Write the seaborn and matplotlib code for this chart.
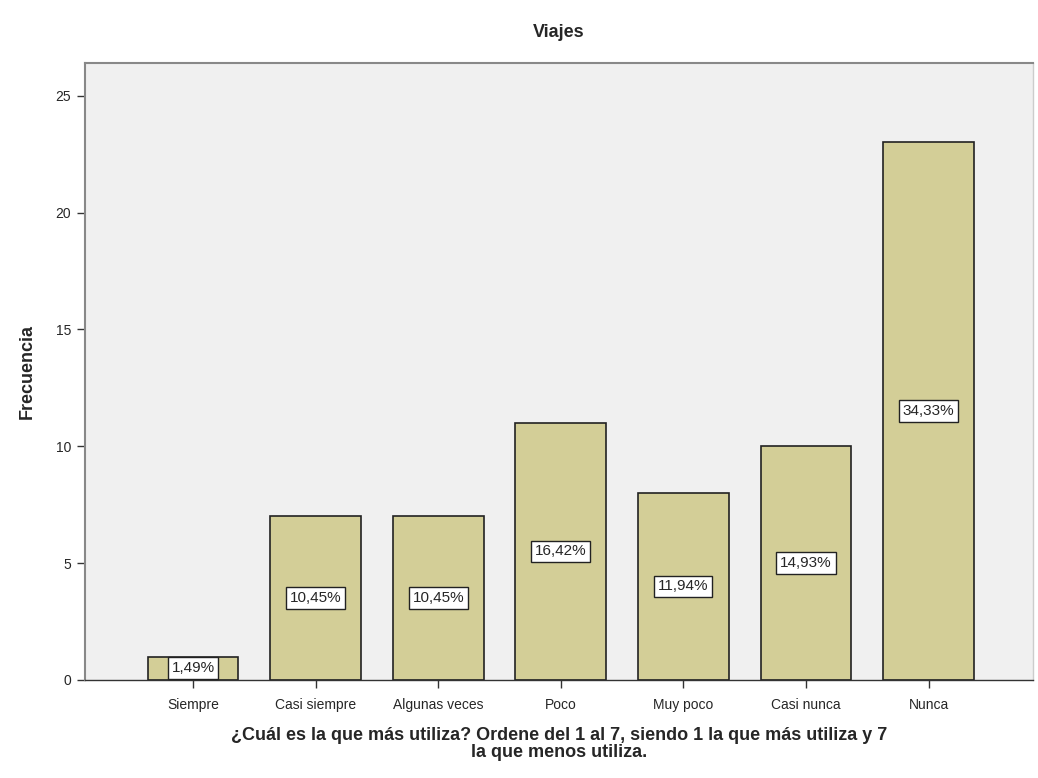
import numpy as np
import pandas as pd
import seaborn as sns
from matplotlib import pyplot as plt

# Datos del grafico
categorias = ["Siempre", "Casi siempre", "Algunas veces", "Poco", "Muy poco", "Casi nunca", "Nunca"]
frecuencias = [1, 7, 7, 11, 8, 10, 23]
porcentajes = ["1,49%", "10,45%", "10,45%", "16,42%", "11,94%", "14,93%", "34,33%"]

df = pd.DataFrame({"cat": categorias, "freq": frecuencias})

sns.set_style("white")
plt.rcParams['font.family'] = ['Liberation Sans', 'DejaVu Sans']

fig = plt.figure(figsize=(10.38, 7.78), dpi=100)
ax = fig.add_axes([0.082, 0.126, 0.913, 0.793])
ax.set_facecolor("#f0f0f0")

sns.barplot(data=df, x="cat", y="freq", color="#d3ce97", saturation=1,
            width=0.74, edgecolor="#222222", linewidth=1.2, ax=ax)

# Etiquetas de porcentaje a media altura
for i, (f, p) in enumerate(zip(frecuencias, porcentajes)):
    ax.text(i, f / 2, p, ha="center", va="center", fontsize=11,
            bbox=dict(boxstyle="square,pad=0.25", facecolor="white", edgecolor="#222222", linewidth=1))

ax.set_xlim(-0.88, 6.85)
ax.set_ylim(0, 26.4)
ax.set_yticks([0, 5, 10, 15, 20, 25])
ax.tick_params(axis="both", direction="out", length=6, width=1, color="#333333",
               labelsize=10, left=True, bottom=True, pad=4)
ax.tick_params(axis="x", pad=7)

for s in ["top", "left"]:
    ax.spines[s].set_color("#888888")
    ax.spines[s].set_linewidth(1.5)
ax.spines["right"].set_color("#cccccc")
ax.spines["right"].set_linewidth(1)
ax.spines["bottom"].set_color("#333333")
ax.spines["bottom"].set_linewidth(1)

ax.set_title("Viajes", fontsize=13, fontweight="bold", pad=19)
ax.set_ylabel("Frecuencia", fontsize=13, fontweight="bold", labelpad=14)
ax.set_xlabel("¿Cuál es la que más utiliza? Ordene del 1 al 7, siendo 1 la que más utiliza y 7\nla que menos utiliza.",
              fontsize=13, fontweight="bold", linespacing=1.0, labelpad=11)

fig.savefig("out.png", dpi=100)
